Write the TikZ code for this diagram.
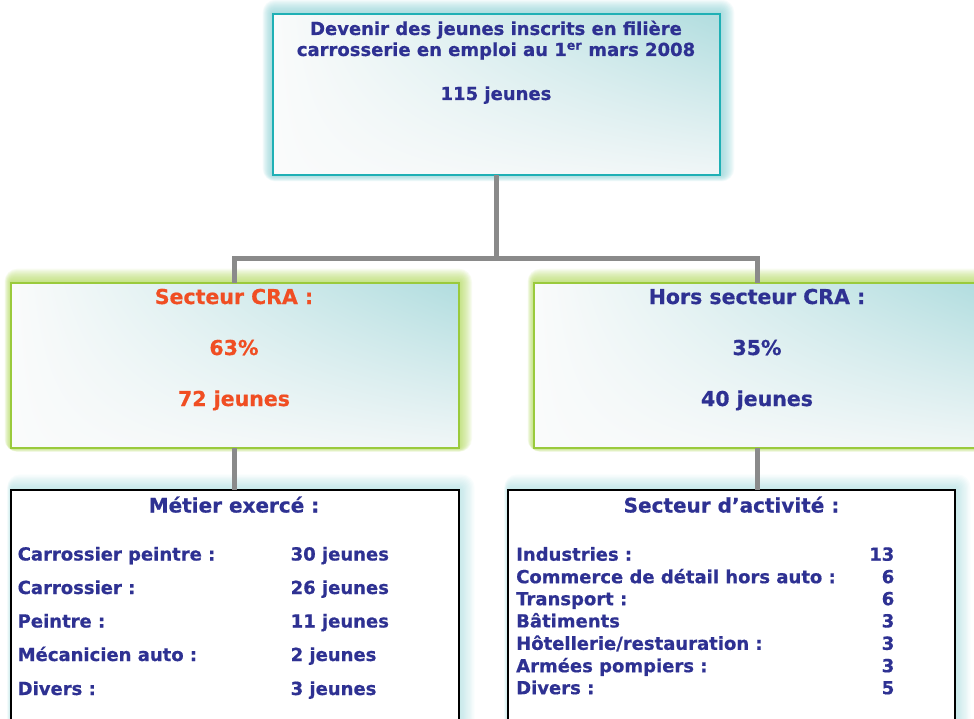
\documentclass[tikz,border=0pt]{standalone}
\usepackage{fontspec}
\setmainfont{DejaVu Sans}[BoldFeatures={FakeBold=0.6}]
\usetikzlibrary{backgrounds,shadings}
\definecolor{txtblue}{HTML}{2E3192}
\definecolor{txtorange}{HTML}{F04E23}
\definecolor{tealline}{HTML}{1FB0B5}
\definecolor{greenline}{HTML}{9ACA3C}
\definecolor{shadeteal}{HTML}{B1DDDF}
\definecolor{paleteal}{HTML}{F0F6F7}
\definecolor{offwhite}{HTML}{FAFBFB}
\definecolor{conngray}{HTML}{8A8A8A}
\definecolor{glowteal}{HTML}{7FCBCF}
\definecolor{glowgreen}{HTML}{A8D44A}
\begin{document}
\begin{tikzpicture}[x=1pt,y=-1pt,
  box/.style={rectangle, inner sep=0pt, outer sep=0pt},
  shadedbox/.style={box, shade, upper left=offwhite, upper right=shadeteal, lower left=offwhite, lower right=paleteal},
  topbox/.style={shadedbox, draw=tealline, line width=2pt},
  midbox/.style={shadedbox, draw=greenline, line width=2pt},
  listbox/.style={box, fill=white, draw=black, line width=1.3pt},
  conn/.style={draw=conngray, line width=5pt, line join=miter},
  txt/.style={inner sep=0pt, anchor=base, text=txtblue, font=\bfseries\fontsize{18}{21}\selectfont},
  bigtxt/.style={txt, font=\bfseries\fontsize{20.5}{24}\selectfont},
  ttl/.style={txt, font=\bfseries\fontsize{20}{24}\selectfont},
  row/.style={txt, anchor=base west},
  num/.style={txt, anchor=base east},
]
\useasboundingbox (0,0) rectangle (974,719);

% boxes
\node[topbox, minimum width=447, minimum height=161] (top) at (496.5,94.5) {};
\node[midbox, minimum width=448, minimum height=165] (cra) at (235,365.5) {};
\node[midbox, minimum width=446, minimum height=165] (hors) at (757,365.5) {};
\node[listbox, minimum width=448, minimum height=250] (metier) at (235,615) {};
\node[listbox, minimum width=447, minimum height=250] (activ) at (731.5,615) {};

% glows
\begin{scope}[on background layer]
\foreach \d in {1,...,13}{
  \fill[glowteal, opacity=0.08, rounded corners=\d pt]
    ([xshift=-0.8*\d pt, yshift=-0.5*\d pt]top.south west) rectangle ([xshift=1.1*\d pt, yshift=1.1*\d pt]top.north east);
  \fill[glowgreen, opacity=0.08, rounded corners=\d pt]
    ([xshift=-0.5*\d pt, yshift=-0.3*\d pt]cra.south west) rectangle ([xshift=\d pt, yshift=1.1*\d pt]cra.north east);
  \fill[glowgreen, opacity=0.08, rounded corners=\d pt]
    ([xshift=-0.5*\d pt, yshift=-0.3*\d pt]hors.south west) rectangle ([xshift=\d pt, yshift=1.1*\d pt]hors.north east);
  \fill[glowteal, opacity=0.045, rounded corners=\d pt]
    ([xshift=-0.3*\d pt, yshift=-0.3*\d pt]metier.south west) rectangle ([xshift=1.2*\d pt, yshift=1.2*\d pt]metier.north east);
  \fill[glowteal, opacity=0.045, rounded corners=\d pt]
    ([xshift=-0.3*\d pt, yshift=-0.3*\d pt]activ.south west) rectangle ([xshift=1.2*\d pt, yshift=1.2*\d pt]activ.north east);
}
\end{scope}

% connectors
\coordinate (split) at (top.south |- 0,259);
\draw[conn] (top.south) -- (split);
\draw[conn] ([xshift=-1pt]cra.north) |- (split) -| (hors.north);
\draw[conn] ([xshift=-1pt]cra.south) -- ([xshift=-1pt]metier.north);
\draw[conn] (hors.south) -- (hors.south |- metier.north);

% top texts
\node[txt] (t1) at (496,35) {Devenir des jeunes inscrits en filière};
\node[txt] (t2) at (496,56) {carrosserie en emploi au 1\textsuperscript{er} mars 2008};
\node[txt] (t3) at (496,100) {115 jeunes};

% middle texts
\node[bigtxt, text=txtorange] (c1) at (234,304) {Secteur CRA :};
\node[bigtxt, text=txtorange] (c2) at (234,355) {63\%};
\node[bigtxt, text=txtorange] (c3) at (234,406) {72 jeunes};
\node[bigtxt] (h1) at (757,304) {Hors secteur CRA :};
\node[bigtxt] (h2) at (757,355) {35\%};
\node[bigtxt] (h3) at (757,406) {40 jeunes};

% metier
\node[ttl] (m0) at (234,512.5) {Métier exercé :};
\node[row] (m1) at (17.5,560.5) {Carrossier peintre :};
\node[row] (m2) at (17.5,594) {Carrossier :};
\node[row] (m3) at (17.5,627.5) {Peintre :};
\node[row] (m4) at (17.5,661) {Mécanicien auto :};
\node[row] (m5) at (17.5,695) {Divers :};
\node[row] (n1) at (290.5,560.5) {30 jeunes};
\node[row] (n2) at (290.5,594) {26 jeunes};
\node[row] (n3) at (290.5,627.5) {11 jeunes};
\node[row] (n4) at (290.5,661) {2 jeunes};
\node[row] (n5) at (290.5,695) {3 jeunes};

% secteur d'activite
\node[ttl] (a0) at (731.5,512.5) {Secteur d’activité :};
\node[row] (a1) at (516,560.7) {Industries :};
\node[row] (a2) at (516,583.2) {Commerce de détail hors auto :};
\node[row] (a3) at (516,605.2) {Transport :};
\node[row] (a4) at (516,627.4) {Bâtiments};
\node[row] (a5) at (516,649.8) {Hôtellerie/restauration :};
\node[row] (a6) at (516,672.2) {Armées pompiers :};
\node[row] (a7) at (516,694.2) {Divers :};
\node[num] (b1) at (894.5,560.7) {13};
\node[num] (b2) at (894.5,583.2) {6};
\node[num] (b3) at (894.5,605.2) {6};
\node[num] (b4) at (894.5,627.4) {3};
\node[num] (b5) at (894.5,649.8) {3};
\node[num] (b6) at (894.5,672.2) {3};
\node[num] (b7) at (894.5,694.2) {5};
\end{tikzpicture}
\end{document}
